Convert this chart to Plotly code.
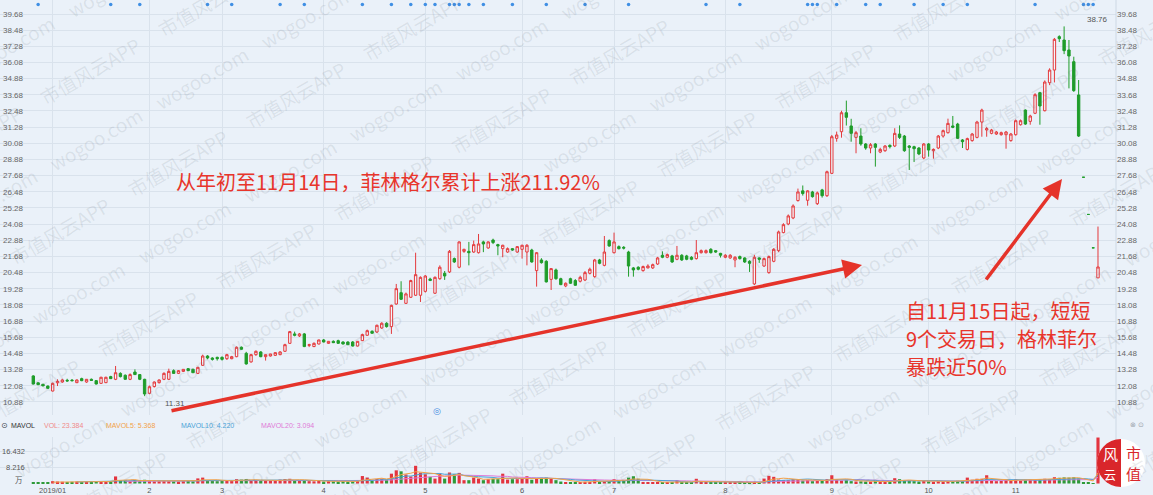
import math
import pandas as pd
import plotly.graph_objects as go

# ---------------- data ----------------
opens = [
    12.81, 12.30, 12.19, 12.06, 11.69, 12.30, 12.36, 12.49, 12.50, 12.31,
    12.61, 12.36, 12.56, 12.46, 12.26, 12.31, 12.76, 12.56, 13.00, 12.86,
    12.56, 13.10, 12.91, 12.56, 11.52, 12.02, 12.31, 12.56, 12.56, 13.20,
    13.00, 13.15, 13.35, 13.30, 13.00, 13.60, 14.29, 14.14, 14.19, 14.19,
    14.09, 14.09, 14.24, 14.94, 14.49, 13.85, 14.39, 14.59, 14.24, 14.29,
    14.34, 14.39, 14.64, 15.23, 15.93, 15.78, 15.93, 15.08, 14.99, 15.18,
    15.48, 15.23, 15.38, 15.43, 15.33, 15.33, 15.33, 15.03, 15.43, 15.83,
    16.12, 16.07, 16.37, 16.72, 16.47, 18.15, 18.99, 18.20, 18.65, 18.80,
    18.80, 19.09, 20.00, 18.95, 20.03, 20.43, 20.53, 21.52, 20.88, 22.06,
    22.06, 22.01, 21.96, 22.76, 22.31, 22.90, 22.56, 22.26, 22.01, 22.26,
    22.01, 22.21, 22.01, 22.16, 20.63, 21.42, 21.32, 19.98, 20.68, 20.03,
    19.49, 20.03, 19.89, 19.84, 19.93, 20.43, 20.18, 21.42, 21.02, 22.86,
    21.96, 22.41, 22.36, 22.01, 20.83, 20.88, 20.63, 20.83, 20.83, 21.12,
    21.77, 21.62, 21.72, 21.47, 21.77, 21.72, 21.62, 21.52, 21.96, 21.96,
    22.21, 22.11, 21.91, 21.62, 21.57, 21.42, 21.67, 21.57, 21.32, 19.64,
    21.57, 20.97, 20.48, 21.32, 22.11, 23.45, 24.09, 24.54, 25.83, 26.55,
    25.85, 26.47, 25.60, 26.62, 26.19, 27.85, 30.45, 30.94, 32.35, 31.37,
    30.52, 30.62, 30.03, 29.73, 30.03, 29.43, 29.53, 29.93, 29.88, 30.77,
    30.62, 29.88, 29.83, 29.73, 28.99, 30.03, 29.53, 29.73, 30.62, 30.87,
    31.37, 31.51, 30.33, 29.63, 30.28, 30.52, 31.66, 31.07, 30.82, 30.77,
    30.72, 30.72, 30.28, 30.72, 31.46, 32.55, 31.71, 32.31, 33.84, 32.50,
    34.58, 35.52, 38.00, 37.75, 37.01, 36.14, 33.67, 27.56, 24.80, 22.32, 20.09,
]
highs = [
    12.86, 12.33, 12.22, 12.10, 12.31, 12.56, 12.60, 12.60, 12.58, 12.55,
    12.68, 12.58, 12.62, 12.50, 12.75, 12.75, 12.82, 13.55, 13.08, 12.92,
    13.00, 13.30, 12.95, 12.60, 12.10, 12.40, 12.55, 13.08, 13.35, 13.30,
    13.25, 13.32, 13.40, 13.35, 13.48, 14.39, 14.35, 14.20, 14.24, 14.26,
    14.45, 14.30, 15.00, 15.00, 14.60, 14.45, 14.70, 14.65, 14.40, 14.45,
    14.55, 14.65, 15.20, 16.15, 16.10, 16.00, 16.00, 15.20, 15.30, 15.50,
    15.55, 15.40, 15.45, 15.50, 15.38, 15.38, 15.40, 15.40, 15.95, 16.25,
    16.20, 16.62, 16.80, 16.80, 18.10, 19.64, 19.84, 19.00, 19.95, 21.96,
    20.20, 20.30, 20.10, 20.20, 21.02, 20.60, 22.16, 21.60, 22.80, 22.25,
    22.76, 22.86, 23.35, 22.85, 22.80, 23.00, 22.62, 22.55, 22.35, 22.30,
    22.45, 22.55, 22.60, 22.25, 22.01, 21.55, 21.40, 20.80, 20.78, 20.10,
    19.75, 20.10, 20.00, 20.25, 20.60, 20.85, 21.50, 21.50, 23.20, 22.95,
    23.45, 22.50, 22.45, 22.10, 20.90, 20.95, 21.00, 21.10, 21.15, 21.65,
    22.06, 21.90, 21.80, 22.46, 21.85, 21.80, 21.70, 22.90, 22.20, 22.20,
    22.30, 22.15, 21.95, 21.85, 21.85, 21.70, 21.75, 21.62, 21.40, 21.80,
    21.62, 21.60, 21.75, 22.30, 23.60, 24.15, 24.80, 25.55, 26.72, 26.95,
    26.60, 26.55, 26.50, 26.70, 28.05, 30.70, 30.95, 32.50, 33.25, 31.90,
    31.00, 31.20, 30.10, 30.10, 30.10, 29.75, 29.95, 30.00, 31.20, 31.41,
    30.70, 29.95, 29.90, 29.80, 30.10, 30.10, 29.70, 30.70, 31.10, 31.91,
    32.11, 31.60, 30.40, 30.50, 30.85, 31.75, 32.65, 31.30, 31.15, 31.00,
    30.95, 31.00, 30.85, 31.85, 31.85, 32.60, 32.20, 33.80, 33.90, 34.75,
    35.65, 37.90, 38.10, 38.76, 37.75, 36.51, 34.78, 27.56, 24.80, 22.32, 23.90,
]
lows = [
    12.18, 12.13, 12.05, 11.86, 11.66, 12.06, 12.30, 12.38, 12.40, 12.28,
    12.42, 12.30, 12.46, 12.18, 12.24, 12.28, 12.58, 12.50, 12.70, 12.52,
    12.50, 12.88, 12.50, 11.31, 11.45, 11.95, 12.25, 12.50, 12.50, 12.98,
    12.95, 13.10, 13.18, 13.05, 12.95, 13.55, 14.05, 13.95, 13.95, 13.95,
    14.00, 14.05, 14.20, 14.75, 13.65, 13.80, 14.30, 14.20, 13.95, 14.25,
    14.30, 14.35, 14.60, 15.20, 15.75, 15.70, 14.95, 14.95, 14.95, 15.15,
    15.30, 15.20, 15.25, 15.20, 15.15, 15.10, 15.00, 15.00, 15.40, 15.80,
    15.95, 16.00, 16.30, 16.40, 15.93, 18.10, 18.45, 18.15, 18.60, 18.75,
    18.30, 19.00, 19.85, 18.90, 19.95, 19.94, 20.45, 21.20, 20.80, 21.95,
    21.02, 21.95, 21.90, 22.00, 22.25, 22.60, 21.77, 21.62, 21.95, 22.10,
    21.95, 21.52, 21.02, 21.22, 19.44, 21.15, 19.75, 19.19, 19.95, 19.55,
    19.40, 19.65, 19.50, 19.75, 19.85, 20.35, 20.10, 21.10, 20.95, 22.40,
    21.90, 22.20, 22.20, 20.18, 20.18, 20.65, 20.55, 20.80, 20.75, 21.05,
    21.55, 21.55, 21.20, 21.40, 21.35, 21.40, 21.40, 21.45, 21.90, 21.90,
    21.90, 21.95, 21.60, 21.55, 21.50, 20.88, 21.45, 21.20, 20.53, 19.55,
    21.20, 20.90, 20.40, 21.25, 22.00, 23.40, 24.00, 24.45, 25.75, 26.20,
    25.45, 26.05, 25.50, 26.05, 26.10, 27.80, 30.20, 30.50, 31.40, 30.20,
    29.34, 29.90, 29.60, 29.34, 28.35, 29.35, 29.45, 29.70, 29.80, 30.40,
    29.45, 28.10, 28.69, 29.20, 28.90, 29.09, 28.94, 29.65, 30.50, 30.80,
    31.20, 30.40, 29.73, 29.55, 30.20, 30.45, 30.57, 30.57, 30.75, 30.70,
    30.65, 29.68, 30.20, 30.65, 31.40, 31.45, 31.46, 32.25, 31.46, 32.45,
    34.40, 34.60, 37.60, 36.70, 34.16, 33.90, 30.55, 27.56, 24.80, 22.32, 20.09,
]
closes = [
    12.21, 12.16, 12.07, 11.89, 12.26, 12.41, 12.51, 12.44, 12.46, 12.51,
    12.46, 12.56, 12.48, 12.21, 12.71, 12.71, 12.61, 13.05, 12.76, 12.56,
    12.91, 12.91, 12.56, 11.47, 12.01, 12.36, 12.51, 13.00, 13.15, 13.00,
    13.20, 13.30, 13.20, 13.05, 13.45, 14.29, 14.14, 14.04, 14.09, 14.04,
    14.39, 14.24, 14.94, 14.79, 13.70, 14.39, 14.64, 14.24, 14.39, 14.44,
    14.54, 14.59, 15.13, 16.10, 15.83, 15.93, 14.99, 15.13, 15.23, 15.48,
    15.33, 15.38, 15.28, 15.23, 15.18, 15.13, 15.03, 15.38, 15.88, 16.17,
    15.98, 16.57, 16.72, 16.47, 18.05, 19.29, 18.50, 18.90, 19.89, 20.33,
    20.13, 20.23, 19.90, 20.13, 20.88, 20.23, 22.06, 21.27, 22.76, 22.21,
    21.96, 22.56, 22.61, 22.61, 22.76, 22.71, 22.46, 22.51, 22.26, 22.16,
    22.41, 22.51, 22.51, 21.27, 21.96, 21.22, 19.79, 20.78, 20.03, 19.59,
    19.69, 19.69, 19.54, 20.13, 20.48, 20.73, 21.42, 21.17, 22.01, 22.46,
    22.76, 22.26, 22.30, 20.97, 20.68, 20.73, 20.93, 20.97, 21.07, 21.57,
    21.62, 21.82, 21.27, 21.77, 21.42, 21.47, 21.47, 21.96, 22.11, 22.11,
    21.96, 22.01, 21.77, 21.77, 21.77, 21.62, 21.52, 21.27, 21.17, 21.62,
    21.47, 21.52, 21.67, 22.21, 23.50, 24.04, 24.69, 25.43, 26.47, 26.35,
    26.55, 26.12, 26.40, 26.19, 27.97, 30.57, 30.70, 32.35, 32.01, 30.82,
    30.87, 30.03, 29.73, 29.98, 29.78, 29.63, 29.88, 29.83, 30.82, 30.52,
    29.53, 29.78, 29.68, 29.29, 30.03, 29.58, 29.63, 30.62, 31.02, 31.56,
    31.27, 30.45, 30.20, 30.43, 30.77, 31.66, 32.55, 31.17, 31.07, 30.92,
    30.87, 30.92, 30.77, 31.76, 31.76, 31.51, 32.11, 33.69, 32.85, 34.63,
    35.52, 37.80, 37.85, 36.96, 36.56, 33.99, 30.62, 27.56, 24.80, 22.32, 20.90,
]
# volume in 万 (10k lots)
volumes = [
    0.6, 0.5, 0.5, 0.6, 1.2, 1.0, 0.9, 0.8, 0.9, 1.0,
    0.8, 0.9, 1.0, 1.1, 0.9, 1.0, 1.0, 3.6, 1.6, 1.5,
    1.4, 1.8, 1.3, 1.9, 1.2, 1.1, 1.2, 1.3, 1.2, 1.1,
    1.0, 1.2, 1.3, 1.1, 2.6, 3.0, 1.5, 1.3, 1.2, 1.4,
    1.6, 1.5, 2.2, 2.0, 2.3, 1.5, 1.7, 1.3, 1.6, 1.4,
    1.5, 2.0, 2.3, 2.4, 1.6, 1.4, 1.8, 1.2, 1.1, 1.3,
    1.0, 1.2, 1.1, 1.0, 1.2, 0.9, 1.1, 1.3, 3.8, 3.0,
    1.8, 2.3, 2.5, 2.0, 5.0, 6.7, 6.2, 4.6, 3.6, 9.0,
    5.5, 4.7, 3.4, 2.5, 5.0, 2.5, 5.6, 4.7, 5.4, 1.7,
    1.7, 3.0, 2.5, 1.7, 2.2, 2.4, 2.2, 5.0, 2.0, 2.2,
    2.2, 2.5, 3.7, 1.9, 2.7, 2.9, 3.0, 2.7, 1.7, 1.0,
    0.7, 0.6, 0.8, 0.7, 0.9, 0.8, 2.2, 1.0, 1.2, 1.1,
    2.2, 1.2, 1.4, 3.0, 3.7, 2.4, 0.8, 0.7, 0.6, 0.8,
    0.6, 0.7, 0.6, 1.7, 0.6, 0.5, 0.6, 2.4, 0.7, 0.6,
    0.5, 0.5, 0.6, 0.4, 0.5, 0.6, 0.5, 0.4, 0.5, 0.8,
    0.5, 2.5, 3.9, 3.4, 2.0, 1.7, 1.7, 2.2, 2.0, 1.5,
    1.8, 1.2, 1.3, 1.4, 2.2, 4.2, 2.2, 1.5, 1.7, 1.2,
    1.0, 1.1, 0.9, 1.0, 1.2, 0.9, 0.8, 1.0, 2.7, 2.2,
    1.6, 1.4, 1.2, 1.0, 1.3, 1.1, 0.9, 1.2, 1.0, 1.3,
    1.1, 1.4, 1.2, 3.0, 1.9, 2.4, 2.4, 4.2, 1.3, 1.2,
    1.4, 1.8, 1.6, 2.2, 1.5, 1.9, 2.0, 1.7, 2.3, 2.4,
    2.28, 3.2, 2.9, 3.1, 3.0, 3.16, 2.555, 0.35, 0.30, 0.25, 23.384,
]
month_idx = [4, 24, 39, 60, 81, 101, 120, 143, 165, 185, 203]
month_labels = ['2019/01', '2', '3', '4', '5', '6', '7', '8', '9', '10', '11']
price_ticks = [10.88, 12.08, 13.28, 14.48, 15.68, 16.88, 18.08, 19.28, 20.48,
               21.68, 22.88, 24.08, 25.28, 26.48, 27.68, 28.88, 30.08, 31.28,
               32.48, 33.68, 34.88, 36.08, 37.28, 38.48, 39.68]
vol_ticks = [8.216, 16.432]
event_idx = [1, 16, 22, 36, 41, 51, 56, 68, 74, 78, 81, 83, 86, 87, 88, 90, 93,
             99, 106, 114, 123, 139, 146, 160, 161, 162, 166, 172, 175, 182,
             188, 193, 207, 217, 218, 219]

note_main = '从年初至11月14日，菲林格尔累计上涨211.92%'
note_side = ['自11月15日起，短短', '9个交易日，格林菲尔', '暴跌近50%']

assert len(opens) == len(highs) == len(lows) == len(closes) == len(volumes), \
    (len(opens), len(highs), len(lows), len(closes), len(volumes))

# ---------------- derived ----------------
n = len(closes)
idx = list(range(n))
vol = pd.Series(volumes)
ma5 = vol.rolling(5).mean()
ma10 = vol.rolling(10).mean()
ma20 = vol.rolling(20).mean()

vol_colors = []
for i in range(n):
    if closes[i] > opens[i]:
        up = True
    elif closes[i] < opens[i]:
        up = False
    else:
        up = i > 0 and closes[i] >= closes[i - 1]
    vol_colors.append('#e3343f' if up else '#2e9a38')

# ---------------- style ----------------
RED = '#e4393c'
GREEN = '#1f9d2a'
BG = '#eaf1f9'
GRID = '#d9e2ec'
TICK = '#666666'
NOTE_RED = '#e8352b'
MA5_C, MA10_C, MA20_C = '#f2a24a', '#4aa3d8', '#e07ad8'

W, H = 1153, 495
ML, MR, MT, MB = 0, 37, 0, 11
PW, PH = W - ML - MR, H - MT - MB


def paper(px, py):
    return (px - ML) / PW, 1 - (py - MT) / PH


# x scale: first candle at 33.3px, 4.84px per day
x_lo = -33.3 / 4.8395
x_hi = x_lo + PW / 4.8395
price_bottom = (PH - 415) / PH
vol_top = 47 / PH

fig = go.Figure()
fig.add_trace(go.Candlestick(
    x=idx, open=opens, high=highs, low=lows, close=closes,
    increasing=dict(line=dict(color=RED, width=1), fillcolor='rgba(255,255,255,0.45)'),
    decreasing=dict(line=dict(color=GREEN, width=1), fillcolor=GREEN),
    whiskerwidth=0, hoverinfo='skip', showlegend=False, xaxis='x', yaxis='y'))
# left-side mirror labels axis (invisible dummy point)
fig.add_trace(go.Scatter(x=[idx[0]], y=[closes[0]], mode='markers',
                         marker=dict(opacity=0), hoverinfo='skip',
                         xaxis='x', yaxis='y3', showlegend=False))
# event markers row
fig.add_trace(go.Scatter(x=event_idx, y=[0.989] * len(event_idx), mode='markers',
                         marker=dict(size=3.5, color='#3f8fe4'), hoverinfo='skip',
                         xaxis='x', yaxis='y4', showlegend=False))
# volume
fig.add_trace(go.Bar(x=idx, y=volumes, marker=dict(color=vol_colors, line=dict(width=0)),
                     hoverinfo='skip', xaxis='x2', yaxis='y2', showlegend=False))
for s, c in [(ma20, MA20_C), (ma10, MA10_C), (ma5, MA5_C)]:
    fig.add_trace(go.Scatter(x=idx, y=s, mode='lines', line=dict(color=c, width=1),
                             hoverinfo='skip', xaxis='x2', yaxis='y2', showlegend=False))

tick_txt = [f'{v:.2f}' for v in price_ticks]
fig.update_layout(
    width=W, height=H, margin=dict(l=ML, r=MR, t=MT, b=MB),
    paper_bgcolor=BG, plot_bgcolor=BG, showlegend=False, hovermode=False,
    font=dict(family='Liberation Sans, Arial, sans-serif', size=8, color=TICK),
    bargap=0.35,
    xaxis=dict(domain=[0, 1], anchor='y', range=[x_lo, x_hi], tickvals=month_idx,
               showticklabels=False, showgrid=True, gridcolor=GRID, zeroline=False,
               ticks='', rangeslider=dict(visible=False)),
    xaxis2=dict(domain=[0, 1], anchor='y2', matches='x', tickvals=month_idx,
                ticktext=month_labels, showgrid=True, gridcolor=GRID, zeroline=False,
                ticks='', tickfont=dict(size=7.5, color='#555555'),
                rangeslider=dict(visible=False)),
    yaxis=dict(domain=[price_bottom, 1], anchor='x', side='right',
               range=[9.91, 40.72], tickvals=price_ticks, ticktext=tick_txt,
               showgrid=True, gridcolor=GRID, zeroline=False, ticks='',
               tickfont=dict(size=8, color=TICK)),
    yaxis3=dict(overlaying='y', matches='y', anchor='x', side='left',
                tickvals=price_ticks, ticktext=tick_txt, ticklabelposition='inside',
                showgrid=False, zeroline=False, ticks='',
                tickfont=dict(size=8, color=TICK)),
    yaxis4=dict(overlaying='y', anchor='x', range=[0, 1], visible=False),
    yaxis2=dict(domain=[0, vol_top], anchor='x2', range=[-0.25, 23.65],
                tickvals=vol_ticks, showticklabels=False, showgrid=True,
                gridcolor=GRID, zeroline=False, ticks=''),
)

ann = []
shapes = []


def label(px, py, text, size, color, family=None, xanchor='center', **kw):
    x, y = paper(px, py)
    f = dict(size=size, color=color)
    if family:
        f['family'] = family
    d = dict(x=x, y=y, xref='paper', yref='paper', text=text, showarrow=False,
             xanchor=xanchor, yanchor='middle', borderpad=0, font=f)
    d.update(kw)
    ann.append(d)


# right edge separator
shapes.append(dict(type='line', xref='paper', yref='paper', x0=1, x1=1, y0=0, y1=1,
                   line=dict(color='#cdd8e4', width=1)))

# watermarks
dvec = (math.cos(math.radians(30)), -math.sin(math.radians(30)))
nvec = (math.sin(math.radians(30)), math.cos(math.radians(30)))
base = (78, 292)
for k in range(-7, 14):
    is_w = (k % 2 == 0)
    txt = 'wogoo.com' if is_w else '市值风云APP'
    step = 122 if is_w else 136
    off = (15 * k) + (0 if is_w else 30)
    for j in range(-8, 16):
        s = off + j * step
        px = base[0] + s * dvec[0] + k * 62 * nvec[0]
        py = base[1] + s * dvec[1] + k * 62 * nvec[1]
        if -30 < px < 1185 and -15 < py < 510:
            label(px, py, txt, 19, 'rgba(95,105,120,0.13)',
                  family='Noto Sans CJK SC, Liberation Sans', textangle=-30)

# min / max labels
i_max = max(idx, key=lambda i: highs[i])
i_min = min(idx, key=lambda i: lows[i])
ann.append(dict(x=i_max, y=highs[i_max], xref='x', yref='y', text=f'{highs[i_max]:.2f}',
                showarrow=False, xanchor='center', yanchor='middle', xshift=33, yshift=7,
                font=dict(size=8, color='#555555')))
ann.append(dict(x=i_min, y=lows[i_min], xref='x', yref='y', text=f'{lows[i_min]:.2f}',
                showarrow=False, xanchor='center', yanchor='middle', xshift=30, yshift=-7,
                font=dict(size=8, color='#555555')))

# notes
label(175, 181, note_main, 20, NOTE_RED, family='Noto Sans CJK SC', xanchor='left')
for line, py in zip(note_side, [310, 338, 366]):
    label(905, py, line, 20, NOTE_RED, family='Noto Sans CJK SC', xanchor='left')

# arrows
for (tx, ty), (hx, hy) in [((170, 411), (862, 265)), ((985, 281), (1062, 179))]:
    x, y = paper(hx, hy)
    ann.append(dict(x=x, y=y, xref='paper', yref='paper', text='', showarrow=True,
                    ax=tx - hx, ay=ty - hy, axref='pixel', ayref='pixel',
                    arrowhead=2, arrowsize=1.1, arrowwidth=3.5, arrowcolor='#e5332a',
                    standoff=0))

# volume header
hdr_y = 425
label(0, hdr_y, '⊙', 8, '#444c55', family='DejaVu Sans', xanchor='left')
for px, txt, col in [
    (10, 'MAVOL', '#333333'),
    (43, f'VOL: {volumes[-1]:.3f}', '#f08a8a'),
    (105, f'MAVOL5: {ma5.iloc[-1]:.3f}', MA5_C),
    (180, f'MAVOL10: {ma10.iloc[-1]:.3f}', MA10_C),
    (260, f'MAVOL20: {ma20.iloc[-1]:.3f}', MA20_C),
]:
    label(px, hdr_y, txt, 7, col, xanchor='left')

# volume axis labels
for v in vol_ticks:
    ann.append(dict(x=paper(26, 0)[0], y=v, xref='paper', yref='y2', text=f'{v:.3f}',
                    showarrow=False, xanchor='right', yanchor='middle', borderpad=0,
                    font=dict(size=7.5, color='#555555')))
label(19, 479, '万', 7.5, '#555555', family='Noto Sans CJK SC')

# small icons
label(437, 411, '◎', 9, '#4a90e2', family='DejaVu Sans')
label(1137, 425, '⊗ ⊙', 7, '#9aa3ad', family='DejaVu Sans')

# logo (市值风云)
cx, cy, r = 1121, 463, 24
x0, y0 = paper(cx - r, cy + r)
x1, y1 = paper(cx + r, cy - r)
shapes.append(dict(type='circle', xref='paper', yref='paper', x0=x0, y0=y0, x1=x1, y1=y1,
                   fillcolor='white', line=dict(width=0), layer='above'))
pts = []
for a in range(90, 271, 6):
    t = math.radians(a)
    pts.append(paper(cx + r * math.cos(t), cy - r * math.sin(t)))
path = 'M ' + ' L '.join(f'{p[0]:.5f},{p[1]:.5f}' for p in pts) + ' Z'
shapes.append(dict(type='path', xref='paper', yref='paper', path=path,
                   fillcolor='#d9262b', line=dict(width=0), layer='above'))
for txt, px, py, sz, col in [('风', 1110, 453, 15, 'white'), ('云', 1110, 474, 12, 'white'),
                             ('市', 1133, 452, 15, '#d9262b'), ('值', 1133, 473, 15, '#d9262b')]:
    label(px, py, txt, sz, col, family='Noto Sans CJK SC')

fig.update_layout(annotations=ann, shapes=shapes)
fig.write_html('out.html', config={'displayModeBar': False})
